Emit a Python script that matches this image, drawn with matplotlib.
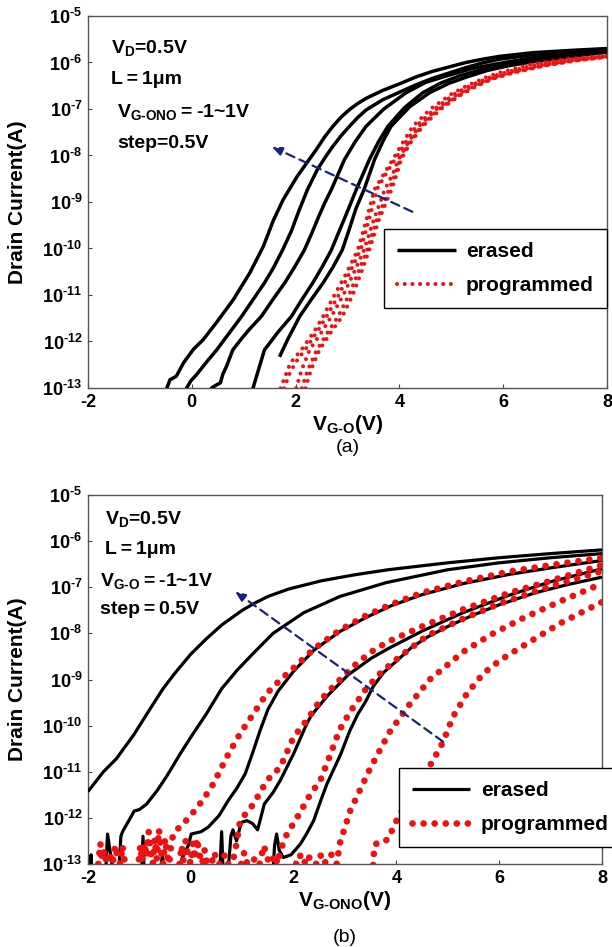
import numpy as np
import matplotlib
matplotlib.use('Agg')
import matplotlib.pyplot as plt

plt.rcParams['font.family'] = ['Liberation Sans', 'DejaVu Sans']
plt.rcParams['font.weight'] = 'bold'
plt.rcParams['mathtext.fontset'] = 'custom'
plt.rcParams['mathtext.rm'] = 'Liberation Sans:bold'
plt.rcParams['mathtext.bf'] = 'Liberation Sans:bold'
plt.rcParams['mathtext.it'] = 'Liberation Sans:bold'
plt.rcParams['mathtext.sf'] = 'Liberation Sans:bold'
plt.rcParams['mathtext.default'] = 'bf'

# ---------------- data: panel (a)  (x = V_G-O, values = log10 drain current) ----
a_e1_v = [-0.55,-0.48,-0.42,-0.30,-0.16,0.03,0.22,0.47,0.80,1.12,1.38,1.57,1.76,2.03,2.40,2.56,2.72,2.88,3.04,3.20,3.36,3.68,4.00,4.32,4.64,5.28,5.60,5.92,6.56,7.30,8.00]
a_e1_i = [-13.5,-13.0,-12.82,-12.75,-12.46,-12.17,-11.96,-11.60,-11.10,-10.52,-9.95,-9.40,-8.95,-8.45,-7.87,-7.60,-7.37,-7.17,-7.01,-6.88,-6.77,-6.60,-6.46,-6.31,-6.19,-6.00,-5.93,-5.87,-5.79,-5.74,-5.70]
a_e2_v = [-0.20,-0.10,-0.02,0.10,0.30,0.48,0.72,0.96,1.18,1.40,1.58,1.75,1.92,2.06,2.23,2.42,2.60,2.72,2.88,3.04,3.20,3.36,3.68,4.00,4.32,4.64,5.28,5.60,5.92,6.60,7.30,8.00]
a_e2_i = [-13.5,-13.0,-12.85,-12.70,-12.42,-12.18,-11.82,-11.46,-11.10,-10.74,-10.40,-10.03,-9.62,-9.20,-8.73,-8.30,-7.99,-7.80,-7.57,-7.37,-7.18,-7.02,-6.80,-6.64,-6.48,-6.34,-6.11,-6.01,-5.93,-5.83,-5.77,-5.72]
a_e3_v = [0.33,0.38,0.45,0.55,0.60,0.67,0.79,0.95,1.10,1.34,1.56,1.79,1.98,2.17,2.32,2.45,2.57,2.69,2.94,3.15,3.36,3.70,4.13,4.50,4.90,5.40,5.92,6.56,7.30,8.00]
a_e3_i = [-13.5,-13.0,-12.95,-12.89,-12.70,-12.53,-12.18,-11.95,-11.75,-11.46,-11.10,-10.74,-10.40,-10.03,-9.65,-9.30,-9.00,-8.73,-8.09,-7.70,-7.37,-7.00,-6.65,-6.43,-6.29,-6.13,-6.02,-5.90,-5.80,-5.74]
a_e4_v = [1.12,1.18,1.26,1.40,1.66,1.92,2.12,2.33,2.51,2.69,2.85,3.00,3.17,3.42,3.60,3.78,4.10,4.45,4.80,5.15,5.60,6.00,6.56,7.30,8.00]
a_e4_i = [-13.5,-13.0,-12.70,-12.18,-11.80,-11.46,-11.10,-10.74,-10.40,-10.03,-9.60,-9.20,-8.73,-8.09,-7.70,-7.37,-6.97,-6.65,-6.44,-6.29,-6.15,-6.05,-5.96,-5.84,-5.76]
a_e5_v = [1.69,1.85,2.08,2.30,2.53,2.72,2.90,3.03,3.16,3.32,3.52,3.68,3.84,4.20,4.58,4.95,5.30,5.70,6.10,6.60,7.30,8.00]
a_e5_i = [-12.33,-11.95,-11.46,-11.10,-10.74,-10.40,-10.03,-9.60,-9.15,-8.73,-8.09,-7.70,-7.37,-6.95,-6.65,-6.45,-6.31,-6.17,-6.07,-5.98,-5.87,-5.78]

a_p1_v = [1.65,1.71,1.80,1.90,2.11,2.35,2.53,2.75,2.97,3.20,3.36,3.52,3.70,3.87,4.05,4.26,4.60,5.00,5.30,5.67,5.92,6.54,7.18,8.00]
a_p1_i = [-13.5,-13.0,-12.75,-12.46,-12.18,-11.80,-11.46,-11.00,-10.55,-10.03,-9.40,-8.73,-8.40,-8.09,-7.75,-7.37,-7.00,-6.68,-6.50,-6.32,-6.22,-6.04,-5.93,-5.85]
a_p2_v = [1.72,1.78,1.88,2.00,2.20,2.42,2.62,2.84,3.05,3.26,3.42,3.58,3.76,3.93,4.12,4.33,4.68,5.06,5.36,5.72,5.96,6.58,7.20,8.00]
a_p2_i = [-13.5,-13.0,-12.70,-12.45,-12.15,-11.78,-11.42,-10.98,-10.50,-10.00,-9.35,-8.70,-8.36,-8.06,-7.72,-7.36,-7.00,-6.68,-6.50,-6.33,-6.24,-6.06,-5.95,-5.86]
a_p3_v = [1.97,2.01,2.12,2.27,2.50,2.69,2.92,3.13,3.32,3.50,3.72,3.88,3.98,4.16,4.38,4.72,5.10,5.42,5.76,6.10,6.70,7.30,8.00]
a_p3_i = [-13.5,-13.0,-12.60,-12.18,-11.80,-11.46,-11.00,-10.50,-10.03,-9.40,-8.73,-8.38,-8.09,-7.74,-7.37,-7.00,-6.70,-6.50,-6.34,-6.22,-6.07,-5.96,-5.87]
a_p4_v = [2.08,2.12,2.24,2.40,2.62,2.82,3.03,3.21,3.38,3.56,3.80,3.92,4.01,4.18,4.42,4.76,5.12,5.46,5.78,6.15,6.75,7.35,8.00]
a_p4_i = [-13.5,-13.0,-12.60,-12.20,-11.80,-11.46,-11.00,-10.50,-10.03,-9.40,-8.73,-8.40,-8.09,-7.75,-7.37,-7.00,-6.72,-6.50,-6.35,-6.22,-6.07,-5.96,-5.88]
a_p5_v = [2.15,2.19,2.30,2.46,2.68,2.90,3.10,3.27,3.42,3.60,3.85,3.95,4.03,4.20,4.45,4.80,5.15,5.50,5.80,6.20,6.80,7.40,8.00]
a_p5_i = [-13.5,-13.0,-12.60,-12.18,-11.80,-11.46,-11.00,-10.50,-10.03,-9.40,-8.73,-8.40,-8.09,-7.75,-7.37,-7.00,-6.72,-6.50,-6.35,-6.22,-6.07,-5.96,-5.88]

# ---------------- data: panel (b)  (x = V_G-ONO) ----------------
b_e1_v = [-2.0,-1.7,-1.45,-1.11,-0.80,-0.54,-0.30,0.00,0.30,0.60,1.00,1.25,1.50,1.90,2.54,3.19,3.84,5.00,6.00,7.00,8.00]
b_e1_i = [-11.43,-11.0,-10.72,-10.2,-9.65,-9.2,-8.85,-8.45,-8.12,-7.82,-7.5,-7.34,-7.2,-7.04,-6.86,-6.73,-6.62,-6.47,-6.36,-6.27,-6.19]
b_e2_v = [-1.97,-1.94,-1.91,-1.67,-1.62,-1.52,-1.47,-1.41,-1.36,-1.32,-1.20,-1.10,-1.00,-0.86,-0.65,-0.47,-0.20,0.00,0.30,0.60,0.90,1.20,1.60,2.20,2.90,3.80,5.00,6.00,7.00,8.00]
b_e2_i = [-13.5,-12.8,-13.5,-13.5,-12.35,-13.1,-13.5,-13.3,-12.4,-12.28,-12.05,-11.85,-11.82,-11.7,-11.4,-11.1,-10.6,-10.25,-9.75,-9.2,-8.8,-8.45,-8.0,-7.55,-7.2,-6.9,-6.62,-6.47,-6.36,-6.27]
b_e3_v = [-0.97,-0.93,-0.90,-0.64,-0.55,-0.50,-0.22,-0.18,-0.05,0.01,0.20,0.34,0.55,0.73,0.90,1.06,1.20,1.35,1.50,1.70,2.00,2.40,2.90,3.40,3.90,4.50,5.30,6.20,7.00,8.00]
b_e3_i = [-13.5,-12.4,-13.5,-13.5,-12.8,-13.5,-13.5,-12.9,-12.6,-12.35,-12.3,-12.2,-11.95,-11.62,-11.35,-11.04,-10.6,-10.1,-9.65,-9.25,-8.82,-8.36,-7.96,-7.66,-7.4,-7.16,-6.92,-6.72,-6.58,-6.42]
b_e4_v = [0.55,0.60,0.64,0.70,0.78,0.82,0.89,0.98,1.09,1.20,1.30,1.43,1.60,1.74,2.00,2.26,2.35,2.67,3.06,3.51,3.84,4.50,5.30,6.20,7.00,8.00]
b_e4_i = [-13.5,-12.3,-13.5,-13.5,-12.4,-12.26,-12.5,-12.1,-12.06,-12.12,-12.26,-11.7,-11.45,-11.19,-10.61,-9.95,-9.77,-9.34,-8.9,-8.54,-8.33,-7.95,-7.55,-7.17,-6.88,-6.60]
b_e5_v = [1.58,1.63,1.67,1.72,1.80,1.95,2.13,2.25,2.39,2.52,2.65,2.80,2.92,3.09,3.25,3.40,3.55,3.75,4.00,4.30,4.62,5.00,5.50,6.00,6.70,7.30,8.00]
b_e5_i = [-13.5,-12.6,-12.35,-12.7,-12.86,-12.8,-12.57,-12.35,-12.06,-11.65,-11.26,-10.9,-10.61,-10.12,-9.75,-9.48,-9.15,-8.85,-8.6,-8.3,-8.07,-7.85,-7.6,-7.38,-7.12,-6.95,-6.78]

b_p1_v = [-1.80,-1.76,-1.73,-1.68,-1.64,-1.58,-1.52,-1.47,-1.42,-1.37,-1.33,-1.28,-1.15,-1.02,-0.98,-0.95,-0.90,-0.86,-0.82,-0.78,-0.74,-0.70,-0.66,-0.62,-0.58,-0.54,-0.50,-0.46,-0.42,-0.38,-0.34,-0.29,-0.03,0.23,0.44,0.70,0.96,1.22,1.48,1.74,2.00,2.40,2.90,3.40,3.90,4.50,5.30,6.20,7.00,8.00]
b_p1_i = [-13.0,-12.55,-12.9,-12.7,-13.0,-12.75,-13.0,-12.6,-12.9,-13.0,-12.6,-13.0,-13.6,-13.0,-12.6,-12.95,-12.55,-12.85,-12.3,-12.75,-13.0,-12.45,-12.9,-12.25,-12.7,-13.0,-12.45,-12.8,-13.0,-12.55,-12.35,-12.28,-11.99,-11.62,-11.26,-10.68,-10.17,-9.74,-9.3,-9.01,-8.75,-8.33,-7.93,-7.62,-7.37,-7.12,-6.88,-6.66,-6.52,-6.36]
b_p2_v = [-0.22,-0.18,-0.14,-0.10,-0.05,0.00,0.04,0.08,0.12,0.17,0.22,0.27,0.32,0.40,0.46,0.52,0.60,0.66,0.72,0.80,0.86,0.91,0.96,1.22,1.48,1.74,2.00,2.26,2.52,2.86,3.19,3.51,3.84,4.50,5.30,6.20,7.00,8.00]
b_p2_i = [-13.0,-12.6,-12.95,-12.5,-12.85,-13.0,-12.55,-12.9,-12.45,-12.8,-13.0,-12.7,-13.0,-13.0,-12.75,-13.0,-13.0,-12.8,-13.0,-13.0,-12.75,-12.4,-12.06,-11.7,-11.19,-10.9,-10.25,-9.88,-9.45,-9.05,-8.69,-8.4,-8.18,-7.85,-7.48,-7.12,-6.86,-6.52]
b_p3_v = [0.98,1.04,1.10,1.18,1.26,1.34,1.42,1.50,1.56,1.63,1.69,1.74,1.87,2.07,2.33,2.52,2.72,2.89,3.10,3.41,3.70,4.07,4.60,5.30,6.00,7.00,8.00]
b_p3_i = [-13.0,-12.75,-13.0,-13.0,-12.85,-13.0,-12.6,-12.9,-13.0,-12.8,-13.0,-12.71,-12.35,-11.99,-11.48,-11.19,-10.61,-10.1,-9.7,-9.2,-8.85,-8.5,-8.05,-7.68,-7.36,-6.98,-6.65]
b_p4_v = [2.05,2.12,2.20,2.28,2.36,2.44,2.52,2.60,2.68,2.76,2.84,2.90,3.10,3.48,3.86,4.25,4.65,5.30,5.85,6.50,7.20,8.00]
b_p4_i = [-13.0,-12.8,-13.0,-12.8,-13.0,-13.0,-12.8,-13.0,-12.8,-12.8,-13.0,-12.55,-11.85,-10.95,-10.15,-9.55,-9.0,-8.4,-8.02,-7.65,-7.3,-6.92]
b_p5_v = [3.52,3.55,3.57,3.62,3.70,3.78,3.85,3.94,4.05,4.30,4.50,4.72,4.91,5.10,5.37,5.69,6.02,6.54,7.19,8.00]
b_p5_i = [-13.5,-13.0,-12.6,-12.55,-12.55,-12.5,-12.45,-12.2,-11.95,-11.5,-11.15,-10.74,-10.35,-9.81,-9.31,-8.87,-8.58,-8.22,-7.78,-7.32]

y_tick_exp = [-13, -12, -11, -10, -9, -8, -7, -6, -5]
x_ticks = [-2, 0, 2, 4, 6, 8]

a_arrow_tail = (4.25, -9.21)
a_arrow_head = (1.54, -7.81)
b_arrow_tail = (4.91, -10.35)
b_arrow_head = (0.86, -7.09)

a_erased = [(a_e1_v, a_e1_i), (a_e2_v, a_e2_i), (a_e3_v, a_e3_i), (a_e4_v, a_e4_i), (a_e5_v, a_e5_i)]
a_prog = [(a_p1_v, a_p1_i), (a_p2_v, a_p2_i), (a_p3_v, a_p3_i), (a_p4_v, a_p4_i), (a_p5_v, a_p5_i)]
b_erased = [(b_e1_v, b_e1_i), (b_e2_v, b_e2_i), (b_e3_v, b_e3_i), (b_e4_v, b_e4_i), (b_e5_v, b_e5_i)]
b_prog = [(b_p1_v, b_p1_i), (b_p2_v, b_p2_i), (b_p3_v, b_p3_i), (b_p4_v, b_p4_i), (b_p5_v, b_p5_i)]

RED = '#f01010'
NAVY = '#15237f'
W, H = 612, 947

fig = plt.figure(figsize=(W / 100, H / 100), dpi=100)
ax_a = fig.add_axes([88 / W, 1 - 388 / H, (607 - 88) / W, (388 - 16) / H])
ax_b = fig.add_axes([88 / W, 1 - 864 / H, (602 - 88) / W, (864 - 495) / H])


def style_axes(ax):
    ax.set_yscale('log')
    ax.set_xlim(-2, 8)
    ax.set_ylim(1e-13, 1e-5)
    ax.set_yticks([10.0 ** e for e in y_tick_exp])
    ax.set_yticklabels(['10$^{\\text{-}%d}$' % (-e) for e in y_tick_exp])
    ax.minorticks_off()
    ax.set_xticks(x_ticks)
    ax.set_xticklabels([str(t) for t in x_ticks])
    ax.tick_params(direction='in', length=3, width=0.8, color='#444444',
                   labelsize=13, pad=4, top=False, right=False)
    for s in ax.spines.values():
        s.set_color('#555555')
        s.set_linewidth(1.0)
    ax.set_ylabel('Drain Current(A)', fontsize=15, fontweight='bold')
    ax.yaxis.set_label_coords(-0.118, 0.5)


def draw(ax, erased, prog, lw_e, lw_p, gap):
    for k, (v, e) in enumerate(erased):
        ax.plot(v, 10.0 ** np.array(e), color='black', lw=lw_e,
                solid_capstyle='butt', solid_joinstyle='round',
                label='erased' if k == 0 else None, zorder=3)
    for k, (v, e) in enumerate(prog):
        ax.plot(v, 10.0 ** np.array(e), color=RED, lw=lw_p,
                linestyle=(0, (0.01, gap)), dash_capstyle='round',
                label='programmed' if k == 0 else None, zorder=4)


def arrow(ax, tail, head):
    ax.annotate('', xy=(head[0], 10.0 ** head[1]), xytext=(tail[0], 10.0 ** tail[1]),
                arrowprops=dict(arrowstyle='-|>,head_length=0.6,head_width=0.25',
                                color=NAVY, lw=1.6, linestyle=(0, (4, 2.5)),
                                shrinkA=0, shrinkB=0), zorder=6)


def legend(ax, anchor):
    leg = ax.legend(loc='lower left', bbox_to_anchor=anchor, borderaxespad=0,
                    fontsize=15, handlelength=2.8, handletextpad=0.5, labelspacing=0.72,
                    borderpad=0.62, fancybox=False, framealpha=1, edgecolor='black')
    leg.get_frame().set_linewidth(1.0)
    leg.set_zorder(10)
    return leg


# ---- panel (a)
style_axes(ax_a)
draw(ax_a, a_erased, a_prog, 2.5, 2.9, 1.9)
arrow(ax_a, a_arrow_tail, a_arrow_head)
ax_a.set_xlabel('V$_{G\\text{-}O}$(V)', fontsize=15, fontweight='bold', labelpad=2)
ta = dict(transform=ax_a.transAxes, fontsize=14, fontweight='bold', va='baseline', ha='left')
ax_a.text(0.044, 0.900, 'V$_D$=0.5V', **ta)
ax_a.text(0.044, 0.817, 'L\u2009=\u20091\u03bcm', **ta)
ax_a.text(0.056, 0.7285, 'V$_{G\\text{-}ONO}$\u2009=\u2009-1~1V', **ta)
ax_a.text(0.056, 0.645, 'step=0.5V', **ta)
legend(ax_a, (0.571, 0.215))
fig.text((88 + 607) / 2 / W, 1 - 448 / H, '(a)', fontsize=14, fontweight='normal',
         ha='center', va='center')

# ---- panel (b)
style_axes(ax_b)
draw(ax_b, b_erased, b_prog, 2.3, 4.8, 1.65)
arrow(ax_b, b_arrow_tail, b_arrow_head)
ax_b.set_xlabel('V$_{G\\text{-}ONO}$(V)', fontsize=15, fontweight='bold', labelpad=2)
tb = dict(transform=ax_b.transAxes, fontsize=14, fontweight='bold', va='baseline', ha='left')
ax_b.text(0.033, 0.921, 'V$_D$=0.5V', **tb)
ax_b.text(0.033, 0.840, 'L\u2009=\u20091\u03bcm', **tb)
ax_b.text(0.023, 0.753, 'V$_{G\\text{-}O}$\u2009=\u2009-1~1V', **tb)
ax_b.text(0.023, 0.6775, 'step\u2009=\u20090.5V', **tb)
legend(ax_b, (0.605, 0.046))
fig.text((88 + 602) / 2 / W, 1 - 937 / H, '(b)', fontsize=14, fontweight='normal',
         ha='center', va='center')

fig.savefig('out.png', dpi=100)
